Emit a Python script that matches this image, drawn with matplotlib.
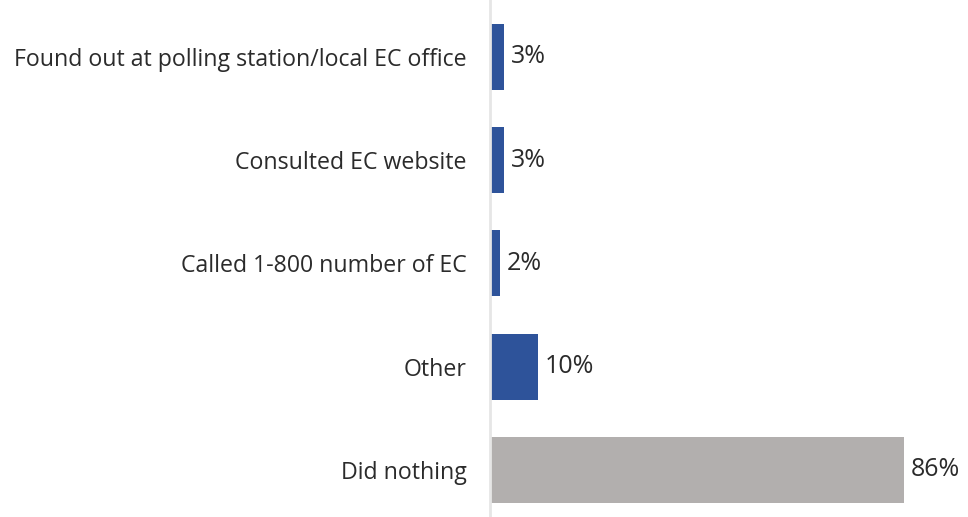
import matplotlib.pyplot as plt

# responses and shares (%)
categories = [
    "Found out at polling station/local EC office",
    "Consulted EC website",
    "Called 1-800 number of EC",
    "Other",
    "Did nothing",
]
values = [3, 3, 2, 10, 86]
bar_colors = ["#2E539A", "#2E539A", "#2E539A", "#2E539A", "#B2AFAE"]

plt.rcParams["font.family"] = ["Open Sans", "DejaVu Sans"]

fig = plt.figure(figsize=(9.68, 5.17), dpi=100)
ax = fig.add_axes([490 / 968, 0, 1 - 490 / 968, 1])

ypos = list(range(len(categories)))
ax.barh(ypos, values, height=0.64, color=bar_colors)

ax.set_xlim(0, 99.3)
ax.set_ylim(4.455, -0.55)

for y, v in zip(ypos, values):
    ax.text(v + 1.4, y, f"{v}%", va="center", ha="left", fontsize=18, color="#2b2b2b")

ax.set_yticks(ypos)
ax.set_yticklabels(categories, fontsize=16.7, color="#2b2b2b")
ax.tick_params(axis="y", length=0, pad=17)
ax.set_xticks([])

for s in ["top", "right", "bottom"]:
    ax.spines[s].set_visible(False)
ax.spines["left"].set_color("#E6E6E6")
ax.spines["left"].set_linewidth(2)

fig.savefig("out.png", dpi=100)
